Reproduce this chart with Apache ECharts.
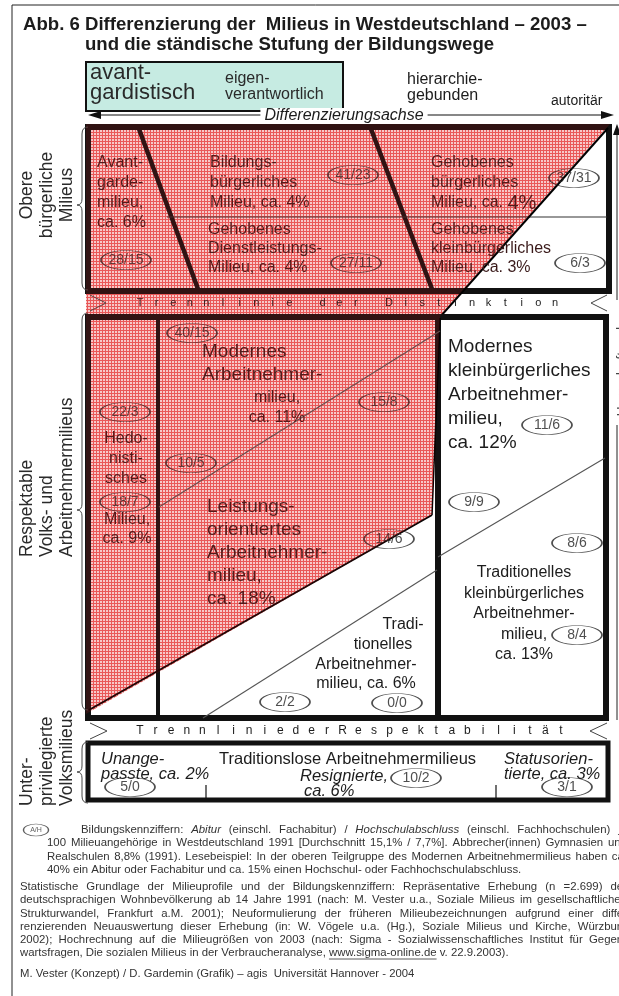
<!DOCTYPE html>
<html><head><meta charset="utf-8">
<script src="https://cdn.jsdelivr.net/npm/echarts@6.0.0/dist/echarts.min.js"></script>
<style>html,body{margin:0;padding:0;background:#fff}#c{width:619px;height:996px}</style>
</head><body><div id="c"></div>
<script>
// ---------------- DATA ----------------
const milieuNames = ['Avantgardemilieu','Bildungsbürgerliches Milieu','Gehobenes Dienstleistungsmilieu','Gehobenes bürgerliches Milieu','Gehobenes kleinbürgerliches Milieu','Modernes Arbeitnehmermilieu','Hedonistisches Milieu','Leistungsorientiertes Arbeitnehmermilieu','Modernes kleinbürgerliches Arbeitnehmermilieu','Traditionelles Arbeitnehmermilieu','Traditionelles kleinbürgerliches Arbeitnehmermilieu','Unangepasste','Resignierte','Statusorientierte'];
const milieuShares = [6,4,4,4,3,11,9,18,12,6,13,2,6,3];
const eduAbitur     = [28,41,27,37,6,40,10,15,14,22,18,11,9,8,8,2,0,5,10,3];
const eduHochschule = [15,23,11,31,3,15,5,8,6,3,7,6,9,6,4,2,0,0,2,1];
const groupLabels = [['Obere','bürgerliche','Milieus'],['Respektable','Volks- und','Arbeitnehmermilieus'],['Unter-','privilegierte','Volksmilieus']];
const axisLabels = [['avant-','gardistisch'],['eigen-','verantwortlich'],['hierarchie-','gebunden'],['autoritär']];
const bandLabels = ['Trennlinie der Distinktion','TrennliniederRespektabilität'];
const axisNames = ['Differenzierungsachse','Herrschaftsachse'];
const noteKey = 'A/H';
const note1 = ['Bildungskennziffern: *Abitur* (einschl. Fachabitur) / *Hochschulabschluss* (einschl. Fachhochschulen) je',
  '100 Milieuangehörige in Westdeutschland 1991 [Durchschnitt 15,1% / 7,7%]. Abbrecher(innen) Gymnasien und',
  'Realschulen 8,8% (1991). Lesebeispiel: In der oberen Teilgruppe des Modernen Arbeitnehmermilieus haben ca.',
  '40% ein Abitur oder Fachabitur und ca. 15% einen Hochschul- oder Fachhochschulabschluss.'];
const note2 = ['Statistische Grundlage der Milieuprofile und der Bildungskennziffern: Repräsentative Erhebung (n =2.699) der',
  'deutschsprachigen Wohnbevölkerung ab 14 Jahre 1991 (nach: M. Vester u.a., Soziale Milieus im gesellschaftlichen',
  'Strukturwandel, Frankfurt a.M. 2001); Neuformulierung der früheren Milieubezeichnungen aufgrund einer diffe-',
  'renzierenden Neuauswertung dieser Erhebung (in: W. Vögele u.a. (Hg.), Soziale Milieus und Kirche, Würzburg',
  '2002); Hochrechnung auf die Milieugrößen von 2003 (nach: Sigma - Sozialwissenschaftliches Institut für Gegen-',
  'wartsfragen, Die sozialen Milieus in der Verbraucheranalyse, www.sigma-online.de v. 22.9.2003).'];
const credit = 'M. Vester (Konzept) / D. Gardemin (Grafik) – agis  Universität Hannover - 2004';

// ---------------- LAYOUT (diagram space = pixel space) ----------------
const FONT = '"Liberation Sans", Arial, sans-serif';
const INK = '#1c1c1c', RED_INK = '#3a1a1a', NOTE = '#333';
const pc = i => 'ca. ' + milieuShares[i] + '%';

const eduPos = [[126,260],[353,175],[356,263],[574,178],[580,263],[192,333],[191,463],[384,402],[389,539],[125,412],[125,502],[547,425],[474,502],[577,543],[577,635],[285,702],[397,703],[130,787],[416,778],[567,787]];

const textBlocks = [
  {x:23,y:25,size:18.6,bold:true,lines:['Abb. 6 Differenzierung der  Milieus in Westdeutschland – 2003 –']},
  {x:85,y:45,size:18.6,bold:true,lines:['und die ständische Stufung der Bildungswege']},
  {x:90,y:73,size:22,lh:20,lines:axisLabels[0],color:'#2a2a2a'},
  {x:225,y:79,size:16,lh:16,lines:axisLabels[1],color:'#2a2a2a'},
  {x:407,y:80,size:16,lh:16,lines:axisLabels[2]},
  {x:551,y:101,size:14,lines:axisLabels[3]},
  {x:344,y:116,size:16,italic:true,align:'center',bg:'#fff',lines:[axisNames[0]]},
  // upper milieus
  {x:97,y:163,size:16,lh:19.7,color:RED_INK,lines:['Avant-','garde-','milieu,',pc(0)]},
  {x:210,y:163,size:16,lh:20,color:RED_INK,lines:['Bildungs-','bürgerliches','Milieu, '+pc(1)]},
  {x:208,y:230,size:16,lh:19,color:RED_INK,lines:['Gehobenes','Dienstleistungs-','Milieu, '+pc(2)]},
  {x:431,y:163,size:16,lh:20,color:RED_INK,lines:['Gehobenes','bürgerliches','{a|Milieu, ca. }{b|'+milieuShares[3]+'%}'],
    rich:{a:{fontSize:16,fontFamily:FONT,fill:RED_INK},b:{fontSize:20,fontFamily:FONT,fill:RED_INK}}},
  {x:431,y:230,size:16,lh:19,color:RED_INK,lines:['Gehobenes','kleinbürgerliches','Milieu, '+pc(4)]},
  // respectable milieus
  {x:202,y:352,size:19,lh:23,color:RED_INK,lines:['Modernes','Arbeitnehmer-']},
  {x:277,y:398,size:16,lh:20,align:'center',color:RED_INK,lines:['milieu,',pc(5)]},
  {x:126,y:439,size:16,lh:20,align:'center',color:RED_INK,lines:['Hedo-','nisti-','sches']},
  {x:127,y:520,size:16,lh:19,align:'center',color:RED_INK,lines:['Milieu,',pc(6)]},
  {x:207,y:507,size:19,lh:23,color:RED_INK,lines:['Leistungs-','orientiertes','Arbeitnehmer-','milieu,',pc(7)]},
  {x:448,y:347,size:19,lh:24,lines:['Modernes','kleinbürgerliches','Arbeitnehmer-','milieu,',pc(8)]},
  {x:403,y:625,size:16,align:'center',lines:['Tradi-']},
  {x:383,y:645,size:16,align:'center',lines:['tionelles']},
  {x:366,y:665,size:16,align:'center',lines:['Arbeitnehmer-']},
  {x:366,y:684,size:16,align:'center',lines:['milieu, '+pc(9)]},
  {x:524,y:573,size:16,lh:20.5,align:'center',lines:['Traditionelles','kleinbürgerliches','Arbeitnehmer-','milieu,',pc(10)]},
  // underprivileged
  {x:101,y:759,size:16.5,lh:15,italic:true,lines:['Unange-','passte, '+pc(11)]},
  {x:219,y:759,size:16.5,lines:['Traditionslose Arbeitnehmermilieus']},
  {x:300,y:776,size:16.5,italic:true,lines:['Resignierte,']},
  {x:304,y:791,size:16.5,italic:true,lines:[pc(12)]},
  {x:504,y:759,size:16.5,lh:15,italic:true,lines:['Statusorien-','tierte, '+pc(13)]},
  // group labels (rotated)
  {x:27,y:195,size:17.5,lh:20,rot:true,align:'center',lines:groupLabels[0],color:'#2a2a2a'},
  {x:27,y:557,size:17.5,lh:20,rot:true,align:'left',lines:groupLabels[1],color:'#2a2a2a'},
  {x:27,y:806,size:17.5,lh:20,rot:true,align:'left',lines:groupLabels[2],color:'#2a2a2a'},
  {x:623,y:362,size:14,rot:true,align:'center',lines:[axisNames[1]],color:'#444'},
  {x:20,y:974,size:11.3,color:NOTE,lines:[credit]}
];

// letter-spaced band labels
function spaced(str, x0, x1, y, size){
  const step = (x1-x0)/(str.length-1);
  [...str].forEach((ch,i)=>{ if(ch!==' ') textBlocks.push({x:x0+i*step,y:y,size:size,align:'center',lines:[ch]}); });
}
spaced(bandLabels[0],140,555,303,11);
spaced(bandLabels[1],140,561,731,12);

// justified footnote lines (word positions measured with canvas)
const meas = document.createElement('canvas').getContext('2d');
const NOTE_SIZE = 11.4;
function wordW(w, it){ meas.font=(it?'italic ':'')+NOTE_SIZE+'px '+FONT; return meas.measureText(w).width; }
function setLine(line, x0, x1, y, justify){
  const words = line.split(' ').filter(w=>w.length).map(w=>{const it=/^\*.*\*$/.test(w); return {t:it?w.slice(1,-1):w,it:it};});
  const widths = words.map(w=>wordW(w.t,w.it));
  const total = widths.reduce((a,b)=>a+b,0);
  const gap = justify ? (x1-x0-total)/(words.length-1) : wordW(' ',false);
  let x = x0;
  words.forEach((w,i)=>{ textBlocks.push({x:x,y:y,size:NOTE_SIZE,italic:w.it,color:NOTE,lines:[w.t]}); x += widths[i]+gap; });
}
const RIGHT = 627;
note1.forEach((l,i)=>setLine(l, i===0?81:47, RIGHT, 830+i*13.2, i<3));
note2.forEach((l,i)=>setLine(l, 20, RIGHT, 887+i*13.2, i<5));
const urlX0 = 20+wordW('wartsfragen, Die sozialen Milieus in der Verbraucheranalyse, ',false);
const urlLine = [[urlX0,887+5*13.2+6],[urlX0+wordW('www.sigma-online.de',false),887+5*13.2+6]];

const redRegion = [[86,124],[610,124],[440,316],[432,515],[86,714]];
const fills = [
  {pts:[[86,62],[343,62],[343,111],[86,111]], fill:'#c6ebe2', stroke:'#111', lw:2}
];
const segs = [
  {pts:[[12,996],[12,5],[619,5]],lw:1,c:'#222'},
  {pts:[[97,115],[606,115]],lw:1.2,c:'#111'},
  {pts:[[88,127],[609,127],[609,291],[88,291]],lw:6,c:'#111',closed:true},
  {pts:[[139,129],[198,289]],lw:4.5,c:'#111'},
  {pts:[[371,129],[432,289]],lw:4.5,c:'#111'},
  {pts:[[167,217],[607,217]],lw:1.2,c:'#333'},
  {pts:[[608,128],[440,317]],lw:2,c:'#000'},
  {pts:[[88,317],[606,317],[606,718],[88,718]],lw:6,c:'#111',closed:true},
  {pts:[[158,317],[158,718]],lw:4,c:'#111'},
  {pts:[[438,317],[438,718]],lw:6,c:'#111'},
  {pts:[[440,318],[432,515]],lw:1.5,c:'#000'},
  {pts:[[89,710],[432,515]],lw:2,c:'#000'},
  {pts:[[159,507],[440,331]],lw:1.2,c:'#555'},
  {pts:[[203,718],[437,570]],lw:1.1,c:'#555'},
  {pts:[[438,557],[605,458]],lw:1.1,c:'#555'},
  {pts:[[88,743],[608,743],[608,800],[88,800]],lw:5,c:'#111',closed:true},
  {pts:[[206,785],[206,798]],lw:1.2,c:'#111'},
  {pts:[[496,785],[496,798]],lw:1.2,c:'#111'},
  {pts:[[90,295],[106,303],[90,311]],lw:1,c:'#444'},
  {pts:[[607,295],[591,303],[607,311]],lw:1,c:'#444'},
  {pts:[[90,723],[107,731],[90,739]],lw:1,c:'#444'},
  {pts:[[607,723],[590,731],[607,739]],lw:1,c:'#444'},
  {pts:[[617,300],[617,132]],lw:1,c:'#222'},
  {pts:[[617,425],[617,720]],lw:1,c:'#222'},
  {pts:urlLine,lw:0.8,c:'#333'}
];
const arrowHeads = [
  [[88,115],[101,111],[101,119]],
  [[614,115],[601,111],[601,119]],
  [[617,124],[613,135],[621,135]]
];
const braces = [[127,290,205],[313,710,510],[742,803,772]];

// ---------------- PATTERN ----------------
function hatch(){
  const c=document.createElement('canvas'); c.width=3; c.height=3;
  const g=c.getContext('2d');
  g.fillStyle='#fde9e9'; g.fillRect(0,0,3,3);
  g.fillStyle='#ec6464'; g.fillRect(0,0,3,1); g.fillRect(0,0,1,3);
  return c;
}
const hatchImg = hatch();

// ---------------- CHART ----------------
const chart = echarts.init(document.getElementById('c'), null, {renderer:'canvas'});
const mapPts = (api, pts) => pts.map(p => api.coord(p));

chart.setOption({
  animation:false,
  grid:{left:0,right:0,top:0,bottom:0},
  xAxis:{type:'value',min:0,max:619,show:false},
  yAxis:{type:'value',min:0,max:996,inverse:true,show:false},
  series:[
    {type:'custom',silent:true,z:1,data:[redRegion[0]],
     renderItem:(p,api)=>({type:'polygon',shape:{points:mapPts(api,redRegion)},style:{fill:{image:hatchImg,repeat:'repeat'}}})},
    {type:'custom',silent:true,z:2,data:fills.map(f=>f.pts[0]),
     renderItem:(p,api)=>{const f=fills[p.dataIndex];return {type:'polygon',shape:{points:mapPts(api,f.pts)},style:{fill:f.fill,stroke:f.stroke,lineWidth:f.lw}};}},
    {type:'custom',silent:true,z:3,data:segs.map(s=>s.pts[0]),
     renderItem:(p,api)=>{const s=segs[p.dataIndex];return {type:s.closed?'polygon':'polyline',shape:{points:mapPts(api,s.pts)},style:{fill:'none',stroke:s.c,lineWidth:s.lw,lineJoin:'miter'}};}},
    {type:'custom',silent:true,z:3,data:arrowHeads.map(a=>a[0]),
     renderItem:(p,api)=>({type:'polygon',shape:{points:mapPts(api,arrowHeads[p.dataIndex])},style:{fill:'#111'}})},
    {type:'custom',silent:true,z:3,data:braces.map(b=>[82,b[0]]),
     renderItem:(p,api)=>{
       const [y1,y2,ym]=braces[p.dataIndex];
       const P=(x,y)=>api.coord([x,y]).map(v=>v.toFixed(1)).join(' ');
       const d=`M${P(88,y1)} Q${P(82,y1)} ${P(82,y1+7)} L${P(82,ym-6)} Q${P(82,ym)} ${P(77,ym)} Q${P(82,ym)} ${P(82,ym+6)} L${P(82,y2-7)} Q${P(82,y2)} ${P(88,y2)}`;
       return {type:'path',shape:{pathData:d},style:{fill:'none',stroke:'#444',lineWidth:1}};
     }},
    {type:'custom',silent:true,z:5,data:textBlocks.map(b=>[b.x,b.y]),
     renderItem:(p,api)=>{
       const b=textBlocks[p.dataIndex];
       const lh=b.lh||b.size*1.2;
       return {type:'group',children:b.lines.map((ln,i)=>{
         const c=api.coord(b.rot?[b.x+i*lh,b.y]:[b.x,b.y+i*lh]);
         return {type:'text',x:c[0],y:c[1],rotation:b.rot?Math.PI/2:0,
           style:{text:ln,fontSize:b.size,fontFamily:FONT,fontWeight:b.bold?'bold':'normal',fontStyle:b.italic?'italic':'normal',
             fill:b.color||INK,align:b.align||'left',verticalAlign:'middle',rich:b.rich,
             backgroundColor:b.bg||'transparent',padding:b.bg?[0,4]:0}};
       })};
     }},
    {type:'scatter',silent:true,z:6,symbol:'circle',symbolSize:[50,19],
     data:eduAbitur.map((a,i)=>[eduPos[i][0],eduPos[i][1],a+'/'+eduHochschule[i]]),
     itemStyle:{color:'rgba(0,0,0,0)',borderColor:'#222',borderWidth:1.1},
     label:{show:true,position:'inside',formatter:q=>q.data[2],fontSize:14,fontFamily:FONT,color:'#222'}},
    {type:'scatter',silent:true,z:6,symbol:'circle',symbolSize:[25,12],
     data:[[36,830,noteKey]],
     itemStyle:{color:'rgba(0,0,0,0)',borderColor:'#333',borderWidth:1},
     label:{show:true,position:'inside',formatter:q=>q.data[2],fontSize:7,fontFamily:FONT,color:'#333'}},
    {type:'custom',silent:true,z:8,data:[redRegion[0]],
     renderItem:(p,api)=>({type:'polygon',shape:{points:mapPts(api,redRegion)},style:{fill:'rgba(215,30,30,0.16)'}})}
  ]
});
</script>
</body></html>
